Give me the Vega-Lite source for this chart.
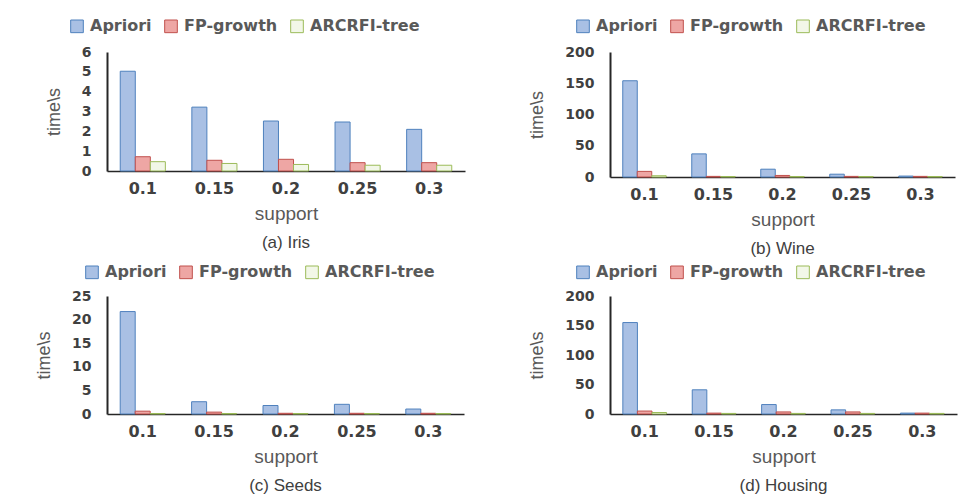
{
  "$schema": "https://vega.github.io/schema/vega-lite/v6.json",
  "background": "white",
  "padding": {"left": 35, "top": 18, "right": 5, "bottom": 0},
  "data": {"values": [
    {"dataset": "Iris", "support": "0.1", "algorithm": "Apriori", "time": 5.03},
    {"dataset": "Iris", "support": "0.15", "algorithm": "Apriori", "time": 3.22},
    {"dataset": "Iris", "support": "0.2", "algorithm": "Apriori", "time": 2.52},
    {"dataset": "Iris", "support": "0.25", "algorithm": "Apriori", "time": 2.47},
    {"dataset": "Iris", "support": "0.3", "algorithm": "Apriori", "time": 2.1},
    {"dataset": "Iris", "support": "0.1", "algorithm": "FP-growth", "time": 0.72},
    {"dataset": "Iris", "support": "0.15", "algorithm": "FP-growth", "time": 0.54},
    {"dataset": "Iris", "support": "0.2", "algorithm": "FP-growth", "time": 0.59},
    {"dataset": "Iris", "support": "0.25", "algorithm": "FP-growth", "time": 0.42},
    {"dataset": "Iris", "support": "0.3", "algorithm": "FP-growth", "time": 0.42},
    {"dataset": "Iris", "support": "0.1", "algorithm": "ARCRFI-tree", "time": 0.47},
    {"dataset": "Iris", "support": "0.15", "algorithm": "ARCRFI-tree", "time": 0.38},
    {"dataset": "Iris", "support": "0.2", "algorithm": "ARCRFI-tree", "time": 0.33},
    {"dataset": "Iris", "support": "0.25", "algorithm": "ARCRFI-tree", "time": 0.29},
    {"dataset": "Iris", "support": "0.3", "algorithm": "ARCRFI-tree", "time": 0.29},
    {"dataset": "Wine", "support": "0.1", "algorithm": "Apriori", "time": 154},
    {"dataset": "Wine", "support": "0.15", "algorithm": "Apriori", "time": 37},
    {"dataset": "Wine", "support": "0.2", "algorithm": "Apriori", "time": 12.5},
    {"dataset": "Wine", "support": "0.25", "algorithm": "Apriori", "time": 4.5},
    {"dataset": "Wine", "support": "0.3", "algorithm": "Apriori", "time": 1.5},
    {"dataset": "Wine", "support": "0.1", "algorithm": "FP-growth", "time": 9},
    {"dataset": "Wine", "support": "0.15", "algorithm": "FP-growth", "time": 1},
    {"dataset": "Wine", "support": "0.2", "algorithm": "FP-growth", "time": 2.5},
    {"dataset": "Wine", "support": "0.25", "algorithm": "FP-growth", "time": 1},
    {"dataset": "Wine", "support": "0.3", "algorithm": "FP-growth", "time": 1},
    {"dataset": "Wine", "support": "0.1", "algorithm": "ARCRFI-tree", "time": 2},
    {"dataset": "Wine", "support": "0.15", "algorithm": "ARCRFI-tree", "time": 0.8},
    {"dataset": "Wine", "support": "0.2", "algorithm": "ARCRFI-tree", "time": 0.8},
    {"dataset": "Wine", "support": "0.25", "algorithm": "ARCRFI-tree", "time": 0.8},
    {"dataset": "Wine", "support": "0.3", "algorithm": "ARCRFI-tree", "time": 0.8},
    {"dataset": "Seeds", "support": "0.1", "algorithm": "Apriori", "time": 21.7},
    {"dataset": "Seeds", "support": "0.15", "algorithm": "Apriori", "time": 2.6},
    {"dataset": "Seeds", "support": "0.2", "algorithm": "Apriori", "time": 1.8},
    {"dataset": "Seeds", "support": "0.25", "algorithm": "Apriori", "time": 2.05},
    {"dataset": "Seeds", "support": "0.3", "algorithm": "Apriori", "time": 1.05},
    {"dataset": "Seeds", "support": "0.1", "algorithm": "FP-growth", "time": 0.6},
    {"dataset": "Seeds", "support": "0.15", "algorithm": "FP-growth", "time": 0.4},
    {"dataset": "Seeds", "support": "0.2", "algorithm": "FP-growth", "time": 0.15},
    {"dataset": "Seeds", "support": "0.25", "algorithm": "FP-growth", "time": 0.15},
    {"dataset": "Seeds", "support": "0.3", "algorithm": "FP-growth", "time": 0.15},
    {"dataset": "Seeds", "support": "0.1", "algorithm": "ARCRFI-tree", "time": 0.1},
    {"dataset": "Seeds", "support": "0.15", "algorithm": "ARCRFI-tree", "time": 0.1},
    {"dataset": "Seeds", "support": "0.2", "algorithm": "ARCRFI-tree", "time": 0.1},
    {"dataset": "Seeds", "support": "0.25", "algorithm": "ARCRFI-tree", "time": 0.1},
    {"dataset": "Seeds", "support": "0.3", "algorithm": "ARCRFI-tree", "time": 0.1},
    {"dataset": "Housing", "support": "0.1", "algorithm": "Apriori", "time": 155},
    {"dataset": "Housing", "support": "0.15", "algorithm": "Apriori", "time": 41},
    {"dataset": "Housing", "support": "0.2", "algorithm": "Apriori", "time": 16},
    {"dataset": "Housing", "support": "0.25", "algorithm": "Apriori", "time": 7},
    {"dataset": "Housing", "support": "0.3", "algorithm": "Apriori", "time": 1.5},
    {"dataset": "Housing", "support": "0.1", "algorithm": "FP-growth", "time": 5},
    {"dataset": "Housing", "support": "0.15", "algorithm": "FP-growth", "time": 1.5},
    {"dataset": "Housing", "support": "0.2", "algorithm": "FP-growth", "time": 3.5},
    {"dataset": "Housing", "support": "0.25", "algorithm": "FP-growth", "time": 3.5},
    {"dataset": "Housing", "support": "0.3", "algorithm": "FP-growth", "time": 1.5},
    {"dataset": "Housing", "support": "0.1", "algorithm": "ARCRFI-tree", "time": 2.5},
    {"dataset": "Housing", "support": "0.15", "algorithm": "ARCRFI-tree", "time": 1},
    {"dataset": "Housing", "support": "0.2", "algorithm": "ARCRFI-tree", "time": 1},
    {"dataset": "Housing", "support": "0.25", "algorithm": "ARCRFI-tree", "time": 1},
    {"dataset": "Housing", "support": "0.3", "algorithm": "ARCRFI-tree", "time": 1}
  ]},
  "columns": 2,
  "spacing": {"column": 63, "row": 7},
  "resolve": {
    "scale": {"x": "independent", "y": "independent", "fill": "independent", "stroke": "independent", "xOffset": "independent"},
    "legend": {"fill": "independent", "stroke": "independent"}
  },
  "concat": [
    {
      "title": {"text": "(a) Iris"},
      "width": 358, "height": 119,
      "transform": [{"filter": "datum.dataset === 'Iris'"}],
      "mark": {"type": "bar", "strokeWidth": 1},
      "encoding": {
        "x": {"field": "support", "type": "nominal", "sort": ["0.1", "0.15", "0.2", "0.25", "0.3"], "title": "support", "scale": {"paddingInner": 0.37, "paddingOuter": 0.185}},
        "xOffset": {"field": "algorithm", "type": "nominal", "sort": ["Apriori", "FP-growth", "ARCRFI-tree"], "scale": {"paddingInner": 0, "paddingOuter": 0}},
        "y": {"field": "time", "type": "quantitative", "title": "time\\s", "scale": {"domain": [0, 6], "nice": false}, "axis": {"values": [0, 1, 2, 3, 4, 5, 6]}},
        "fill": {"field": "algorithm", "type": "nominal", "scale": {"domain": ["Apriori", "FP-growth", "ARCRFI-tree"], "range": ["#a9c0e4", "#eea6a4", "#f2f7e8"]}, "legend": {"legendX": -38, "legendY": -34}},
        "stroke": {"field": "algorithm", "type": "nominal", "scale": {"domain": ["Apriori", "FP-growth", "ARCRFI-tree"], "range": ["#4f81bd", "#c0504d", "#9bbb59"]}, "legend": {"legendX": -38, "legendY": -34}}
      }
    },
    {
      "title": {"text": "(b) Wine"},
      "width": 345, "height": 125,
      "transform": [{"filter": "datum.dataset === 'Wine'"}],
      "mark": {"type": "bar", "strokeWidth": 1},
      "encoding": {
        "x": {"field": "support", "type": "nominal", "sort": ["0.1", "0.15", "0.2", "0.25", "0.3"], "title": "support", "scale": {"paddingInner": 0.37, "paddingOuter": 0.185}},
        "xOffset": {"field": "algorithm", "type": "nominal", "sort": ["Apriori", "FP-growth", "ARCRFI-tree"], "scale": {"paddingInner": 0, "paddingOuter": 0}},
        "y": {"field": "time", "type": "quantitative", "title": "time\\s", "scale": {"domain": [0, 200], "nice": false}, "axis": {"values": [0, 50, 100, 150, 200]}},
        "fill": {"field": "algorithm", "type": "nominal", "scale": {"domain": ["Apriori", "FP-growth", "ARCRFI-tree"], "range": ["#a9c0e4", "#eea6a4", "#f2f7e8"]}, "legend": {"legendX": -35, "legendY": -34}},
        "stroke": {"field": "algorithm", "type": "nominal", "scale": {"domain": ["Apriori", "FP-growth", "ARCRFI-tree"], "range": ["#4f81bd", "#c0504d", "#9bbb59"]}, "legend": {"legendX": -35, "legendY": -34}}
      }
    },
    {
      "title": {"text": "(c) Seeds"},
      "width": 357, "height": 118,
      "transform": [{"filter": "datum.dataset === 'Seeds'"}],
      "mark": {"type": "bar", "strokeWidth": 1},
      "encoding": {
        "x": {"field": "support", "type": "nominal", "sort": ["0.1", "0.15", "0.2", "0.25", "0.3"], "title": "support", "scale": {"paddingInner": 0.37, "paddingOuter": 0.185}},
        "xOffset": {"field": "algorithm", "type": "nominal", "sort": ["Apriori", "FP-growth", "ARCRFI-tree"], "scale": {"paddingInner": 0, "paddingOuter": 0}},
        "y": {"field": "time", "type": "quantitative", "title": "time\\s", "scale": {"domain": [0, 25], "nice": false}, "axis": {"values": [0, 5, 10, 15, 20, 25]}},
        "fill": {"field": "algorithm", "type": "nominal", "scale": {"domain": ["Apriori", "FP-growth", "ARCRFI-tree"], "range": ["#a9c0e4", "#eea6a4", "#f2f7e8"]}, "legend": {"legendX": -23, "legendY": -32}},
        "stroke": {"field": "algorithm", "type": "nominal", "scale": {"domain": ["Apriori", "FP-growth", "ARCRFI-tree"], "range": ["#4f81bd", "#c0504d", "#9bbb59"]}, "legend": {"legendX": -23, "legendY": -32}}
      }
    },
    {
      "title": {"text": "(d) Housing"},
      "width": 347, "height": 118,
      "transform": [{"filter": "datum.dataset === 'Housing'"}],
      "mark": {"type": "bar", "strokeWidth": 1},
      "encoding": {
        "x": {"field": "support", "type": "nominal", "sort": ["0.1", "0.15", "0.2", "0.25", "0.3"], "title": "support", "scale": {"paddingInner": 0.37, "paddingOuter": 0.185}},
        "xOffset": {"field": "algorithm", "type": "nominal", "sort": ["Apriori", "FP-growth", "ARCRFI-tree"], "scale": {"paddingInner": 0, "paddingOuter": 0}},
        "y": {"field": "time", "type": "quantitative", "title": "time\\s", "scale": {"domain": [0, 200], "nice": false}, "axis": {"values": [0, 50, 100, 150, 200]}},
        "fill": {"field": "algorithm", "type": "nominal", "scale": {"domain": ["Apriori", "FP-growth", "ARCRFI-tree"], "range": ["#a9c0e4", "#eea6a4", "#f2f7e8"]}, "legend": {"legendX": -35, "legendY": -32}},
        "stroke": {"field": "algorithm", "type": "nominal", "scale": {"domain": ["Apriori", "FP-growth", "ARCRFI-tree"], "range": ["#4f81bd", "#c0504d", "#9bbb59"]}, "legend": {"legendX": -35, "legendY": -32}}
      }
    }
  ],
  "config": {
    "view": {"stroke": null},
    "title": {"orient": "bottom", "anchor": "middle", "font": "Liberation Sans", "fontSize": 17, "fontWeight": "normal", "color": "#404040", "offset": 12},
    "axis": {"grid": false, "ticks": false, "domainColor": "#262626", "labelFont": "DejaVu Sans", "labelFontWeight": "bold", "labelColor": "#404040", "titleFont": "Liberation Sans", "titleFontWeight": "normal", "titleColor": "#595959"},
    "axisX": {"labelAngle": 0, "labelFontSize": 16, "labelPadding": 9, "domainWidth": 1.5, "titleFontSize": 19, "titlePadding": 8},
    "axisY": {"labelFontSize": 14, "labelPadding": 16, "domainWidth": 2, "titleFontSize": 18, "titlePadding": 18},
    "legend": {"orient": "none", "direction": "horizontal", "title": null, "symbolType": "square", "symbolSize": 160, "symbolStrokeWidth": 1, "labelFont": "DejaVu Sans", "labelFontWeight": "bold", "labelFontSize": 16, "labelColor": "#595959", "columnPadding": 10, "labelOffset": 5}
  }
}
